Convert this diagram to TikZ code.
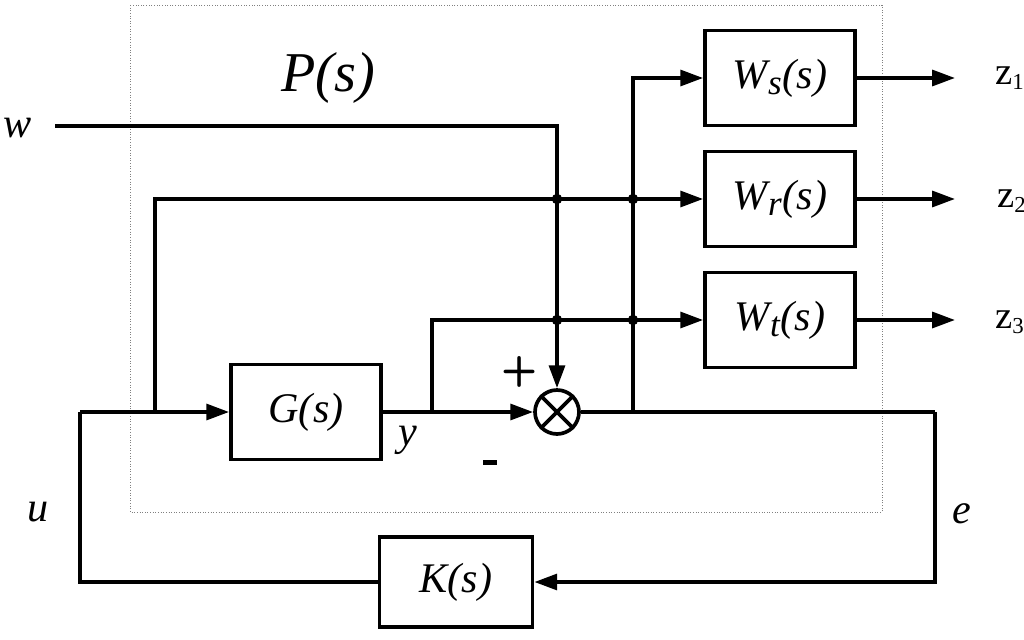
\documentclass[tikz,border=0pt]{standalone}
\usepackage{fontspec}
\setmainfont{Liberation Serif}
\usetikzlibrary{arrows.meta}
\begin{document}
\begin{tikzpicture}[x=0.02cm,y=-0.02cm,
  line width=2.1pt,
  blk/.style={draw,line width=2.1pt,minimum width=150*0.02cm,minimum height=95*0.02cm,font=\fontsize{24}{28}\selectfont\itshape,inner sep=0pt},
  arr/.style={-{Triangle[length=13pt,width=9pt]}},
  lab/.style={font=\fontsize{24}{28}\selectfont\itshape},
  zl/.style={font=\fontsize{22}{26}\selectfont},
  dot/.style={circle,fill,inner sep=0pt,minimum size=6pt}]
\useasboundingbox (0,0) rectangle (1024,639);
\draw[gray,line width=0.5pt,densely dotted] (130,5) rectangle (882,512);
\node[font=\fontsize{32}{36}\selectfont\itshape] (P) at (328,78) {P(s)};
\node[blk] (G) at (306,412) {G(s)};
\node[blk] (Ws) at (780,78) {W\textsubscript{\fontsize{20}{22}\selectfont s}(s)};
\node[blk] (Wr) at (780,199) {W\textsubscript{\fontsize{20}{22}\selectfont r}(s)};
\node[blk] (Wt) at (780,320) {W\textsubscript{\fontsize{20}{22}\selectfont t}(s)};
\node[blk,minimum width=153*0.02cm,minimum height=90*0.02cm] (K) at (456,582) {K(s)};
\node[draw,circle,line width=2.1pt,minimum size=44*0.02cm,inner sep=0pt] (S) at (557,412) {};
\draw[line width=2.1pt] (S.north west) -- (S.south east) (S.north east) -- (S.south west);
\node[lab] (w) at (18,128) {w};
\node[lab] (u) at (38,512) {u};
\node[lab] (e) at (962,514) {e};
\node[lab] (y) at (408,440) {y};
\node[font=\sffamily\bfseries\fontsize{24}{28}\selectfont] (pl) at (520,372) {+};
\node[fill,inner sep=0pt,minimum width=14*0.02cm,minimum height=5*0.02cm] (mi) at (490,462) {};
\node[zl] (z1) at (1010,78) {z\textsubscript{\fontsize{13}{14}\selectfont 1}};
\node[zl] (z2) at (1012,201) {z\textsubscript{\fontsize{13}{14}\selectfont 2}};
\node[zl] (z3) at (1010,322) {z\textsubscript{\fontsize{13}{14}\selectfont 3}};
\coordinate (wst) at (55,126);
\coordinate (uc) at (80,412);
\coordinate (b1) at (155,412);
\coordinate (b2) at (432,412);
\coordinate (b3) at (633,412);
\coordinate (ec) at (935,412);
\coordinate (o1) at (955,78);
\coordinate (o2) at (955,199);
\coordinate (o3) at (955,320);
\draw[arr] (wst) -| (S.north);
\draw[arr] (uc) -- (G.west);
\draw[arr] (G.east) -- (S.west);
\draw (S.east) -- (ec);
\draw[arr] (ec) |- (K.east);
\draw (K.west) -| (uc);
\draw[arr] (b1) |- (Wr.west);
\draw[arr] (b2) |- (Wt.west);
\draw[arr] (b3) |- (Ws.west);
\draw[arr] (Ws.east) -- (o1);
\draw[arr] (Wr.east) -- (o2);
\draw[arr] (Wt.east) -- (o3);
\node[dot] (d1) at (557,199) {};
\node[dot] (d2) at (633,199) {};
\node[dot] (d3) at (557,320) {};
\node[dot] (d4) at (633,320) {};
\end{tikzpicture}
\end{document}
